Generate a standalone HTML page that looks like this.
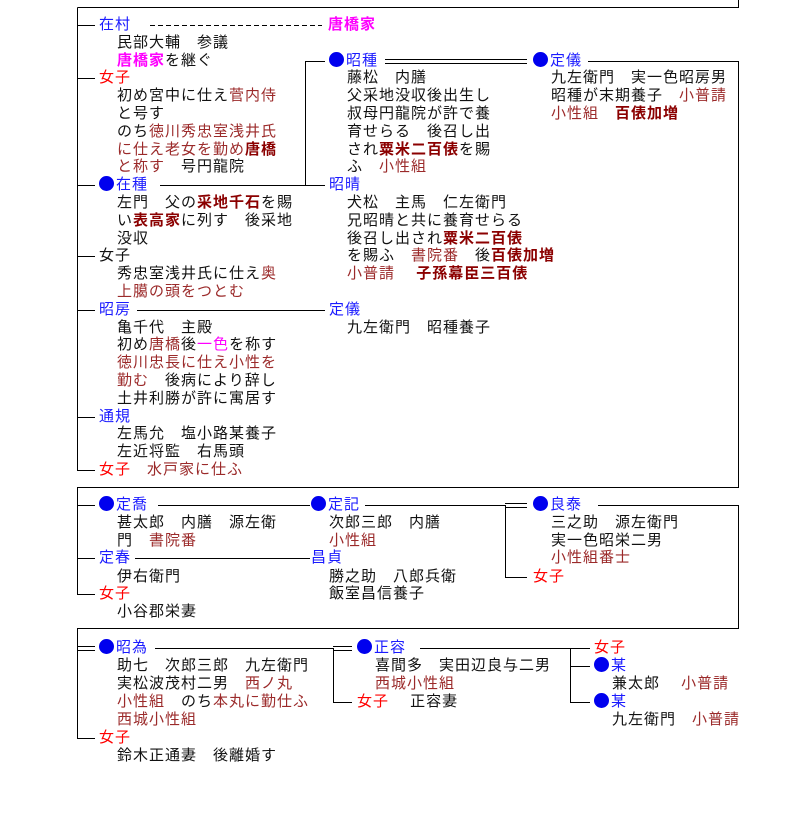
<!DOCTYPE html>
<html><head><meta charset="utf-8"><style>
body{margin:0;background:#fff;width:794px;height:820px;overflow:hidden;position:relative;font-family:"Liberation Sans","Noto Sans CJK JP",sans-serif}
.t{position:absolute;white-space:nowrap;line-height:18px;font-size:15px;color:#111;letter-spacing:1px}
.b{color:#1a1aff}.r{color:#ff0000}.d{color:#9b2a2a}.k{color:#8b0000;font-weight:bold}.m{color:#ff00ff;font-weight:bold}
.o{display:inline-block;width:15px;height:15px;border-radius:50%;background:#0000ee;vertical-align:-2px;margin-right:2px}
svg{position:absolute;left:0;top:0}
</style></head><body>
<svg width="794" height="820" stroke="#000" stroke-width="1" fill="none">
<path d="M77.5 7.5H738.5V0M77.5 7.5V470.5"/>
<path d="M77 25.5H95M77 78.5H95M77 185.5H95M77 256.5H95M77 310.5H95M77 417.5H95M77 470.5H95"/>
<path d="M150 25.5H322" stroke-dasharray="5 3"/>
<path d="M160 185.5H325M305.5 61.5V185.5M305 61.5H325M137 310.5H325"/>
<path d="M385 59.5H527M385 63.5H527"/>
<path d="M588 61.5H738.5V487.5H77.5V594.5M77 505.5H95M77 558.5H95M77 594.5H95"/>
<path d="M158 505.5H310M135 558.5H310"/>
<path d="M365 505.5H505.5V577.5H527M505 503.5H527M505 507.5H527"/>
<path d="M598 505.5H738.5V628.5H77.5V738.5H95M77 646.5H95M77 650.5H95"/>
<path d="M155 648.5H333.5V702.5H352M333 646.5H352M333 650.5H352"/>
<path d="M420 648.5H570.5V702.5H590M570 648.5H590M570 666.5H590"/>
</svg>

<div class="t b" style="left:99px;top:16px">在村</div>
<div class="t m" style="left:328px;top:16px">唐橋家</div>
<div class="t" style="left:117px;top:34px">民部大輔　参議</div>
<div class="t" style="left:117px;top:52px"><span class="m">唐橋家</span>を継ぐ</div>
<div class="t r" style="left:99px;top:69px">女子</div>
<div class="t" style="left:117px;top:87px">初め宮中に仕え<span class="d">菅内侍</span></div>
<div class="t" style="left:117px;top:105px">と号す</div>
<div class="t" style="left:117px;top:123px">のち<span class="d">徳川秀忠室浅井氏</span></div>
<div class="t d" style="left:117px;top:141px">に仕え老女を勤め<span class="k">唐橋</span></div>
<div class="t" style="left:117px;top:158px"><span class="d">と称す</span>　号円龍院</div>
<div class="t" style="left:99px;top:176px"><span class="o"></span><span class="b">在種</span></div>
<div class="t" style="left:117px;top:194px">左門　父の<span class="k">采地千石</span>を賜</div>
<div class="t" style="left:117px;top:212px">い<span class="k">表高家</span>に列す　後采地</div>
<div class="t" style="left:117px;top:230px">没収</div>
<div class="t" style="left:99px;top:247px">女子</div>
<div class="t" style="left:117px;top:265px">秀忠室浅井氏に仕え<span class="d">奥</span></div>
<div class="t d" style="left:117px;top:283px">上臈の頭をつとむ</div>
<div class="t b" style="left:99px;top:301px">昭房</div>
<div class="t" style="left:117px;top:319px">亀千代　主殿</div>
<div class="t" style="left:117px;top:336px">初め<span class="d">唐橋</span>後<span class="m" style="font-weight:normal">一色</span>を称す</div>
<div class="t d" style="left:117px;top:354px">徳川忠長に仕え小性を</div>
<div class="t" style="left:117px;top:372px"><span class="d">勤む</span>　後病により辞し</div>
<div class="t" style="left:117px;top:390px">土井利勝が許に寓居す</div>
<div class="t b" style="left:99px;top:408px">通規</div>
<div class="t" style="left:117px;top:425px">左馬允　塩小路某養子</div>
<div class="t" style="left:117px;top:443px">左近将監　右馬頭</div>
<div class="t" style="left:99px;top:461px"><span class="r">女子</span>　<span class="d">水戸家に仕ふ</span></div>

<div class="t" style="left:329px;top:52px"><span class="o"></span><span class="b">昭種</span></div>
<div class="t" style="left:347px;top:69px">藤松　内膳</div>
<div class="t" style="left:347px;top:87px">父采地没収後出生し</div>
<div class="t" style="left:347px;top:105px">叔母円龍院が許で養</div>
<div class="t" style="left:347px;top:123px">育せらる　後召し出</div>
<div class="t" style="left:347px;top:141px">され<span class="k">粟米二百俵</span>を賜</div>
<div class="t" style="left:347px;top:158px">ふ　<span class="d">小性組</span></div>
<div class="t b" style="left:329px;top:176px">昭晴</div>
<div class="t" style="left:347px;top:194px">犬松　主馬　仁左衛門</div>
<div class="t" style="left:347px;top:212px">兄昭晴と共に養育せらる</div>
<div class="t" style="left:347px;top:230px">後召し出され<span class="k">粟米二百俵</span></div>
<div class="t" style="left:347px;top:247px">を賜ふ　<span class="d">書院番</span>　後<span class="k">百俵加増</span></div>
<div class="t" style="left:347px;top:265px"><span class="d">小普請</span>　 <span class="k">子孫幕臣三百俵</span></div>
<div class="t b" style="left:329px;top:301px">定儀</div>
<div class="t" style="left:347px;top:319px">九左衛門　昭種養子</div>

<div class="t" style="left:533px;top:52px"><span class="o"></span><span class="b">定儀</span></div>
<div class="t" style="left:551px;top:69px">九左衛門　実一色昭房男</div>
<div class="t" style="left:551px;top:87px">昭種が末期養子　<span class="d">小普請</span></div>
<div class="t" style="left:551px;top:105px"><span class="d">小性組</span>　<span class="k">百俵加増</span></div>

<div class="t" style="left:99px;top:496px"><span class="o"></span><span class="b">定喬</span></div>
<div class="t" style="left:117px;top:514px">甚太郎　内膳　源左衛</div>
<div class="t" style="left:117px;top:532px">門　<span class="d">書院番</span></div>
<div class="t b" style="left:99px;top:549px">定春</div>
<div class="t" style="left:117px;top:568px">伊右衛門</div>
<div class="t r" style="left:99px;top:585px">女子</div>
<div class="t" style="left:117px;top:603px">小谷郡栄妻</div>

<div class="t" style="left:311px;top:496px"><span class="o"></span><span class="b">定記</span></div>
<div class="t" style="left:329px;top:514px">次郎三郎　内膳</div>
<div class="t d" style="left:329px;top:532px">小性組</div>
<div class="t b" style="left:311px;top:549px">昌貞</div>
<div class="t" style="left:329px;top:568px">勝之助　八郎兵衛</div>
<div class="t" style="left:329px;top:585px">飯室昌信養子</div>

<div class="t" style="left:533px;top:496px"><span class="o"></span><span class="b">良泰</span></div>
<div class="t" style="left:551px;top:514px">三之助　源左衛門</div>
<div class="t" style="left:551px;top:532px">実一色昭栄二男</div>
<div class="t d" style="left:551px;top:549px">小性組番士</div>
<div class="t r" style="left:533px;top:568px">女子</div>

<div class="t" style="left:99px;top:639px"><span class="o"></span><span class="b">昭為</span></div>
<div class="t" style="left:117px;top:657px">助七　次郎三郎　九左衛門</div>
<div class="t" style="left:117px;top:675px">実松波茂村二男　<span class="d">西ノ丸</span></div>
<div class="t" style="left:117px;top:693px"><span class="d">小性組</span>　のち<span class="d">本丸に勤仕ふ</span></div>
<div class="t d" style="left:117px;top:711px">西城小性組</div>
<div class="t r" style="left:99px;top:729px">女子</div>
<div class="t" style="left:117px;top:747px">鈴木正通妻　後離婚す</div>

<div class="t" style="left:357px;top:639px"><span class="o"></span><span class="b">正容</span></div>
<div class="t" style="left:375px;top:657px">喜間多　実田辺良与二男</div>
<div class="t d" style="left:375px;top:675px">西城小性組</div>
<div class="t" style="left:357px;top:693px"><span class="r">女子</span>　 正容妻</div>

<div class="t r" style="left:594px;top:639px">女子</div>
<div class="t" style="left:594px;top:657px"><span class="o"></span><span class="b">某</span></div>
<div class="t" style="left:612px;top:675px">兼太郎　 <span class="d">小普請</span></div>
<div class="t" style="left:594px;top:693px"><span class="o"></span><span class="b">某</span></div>
<div class="t" style="left:612px;top:711px">九左衛門　<span class="d">小普請</span></div>
</body></html>
